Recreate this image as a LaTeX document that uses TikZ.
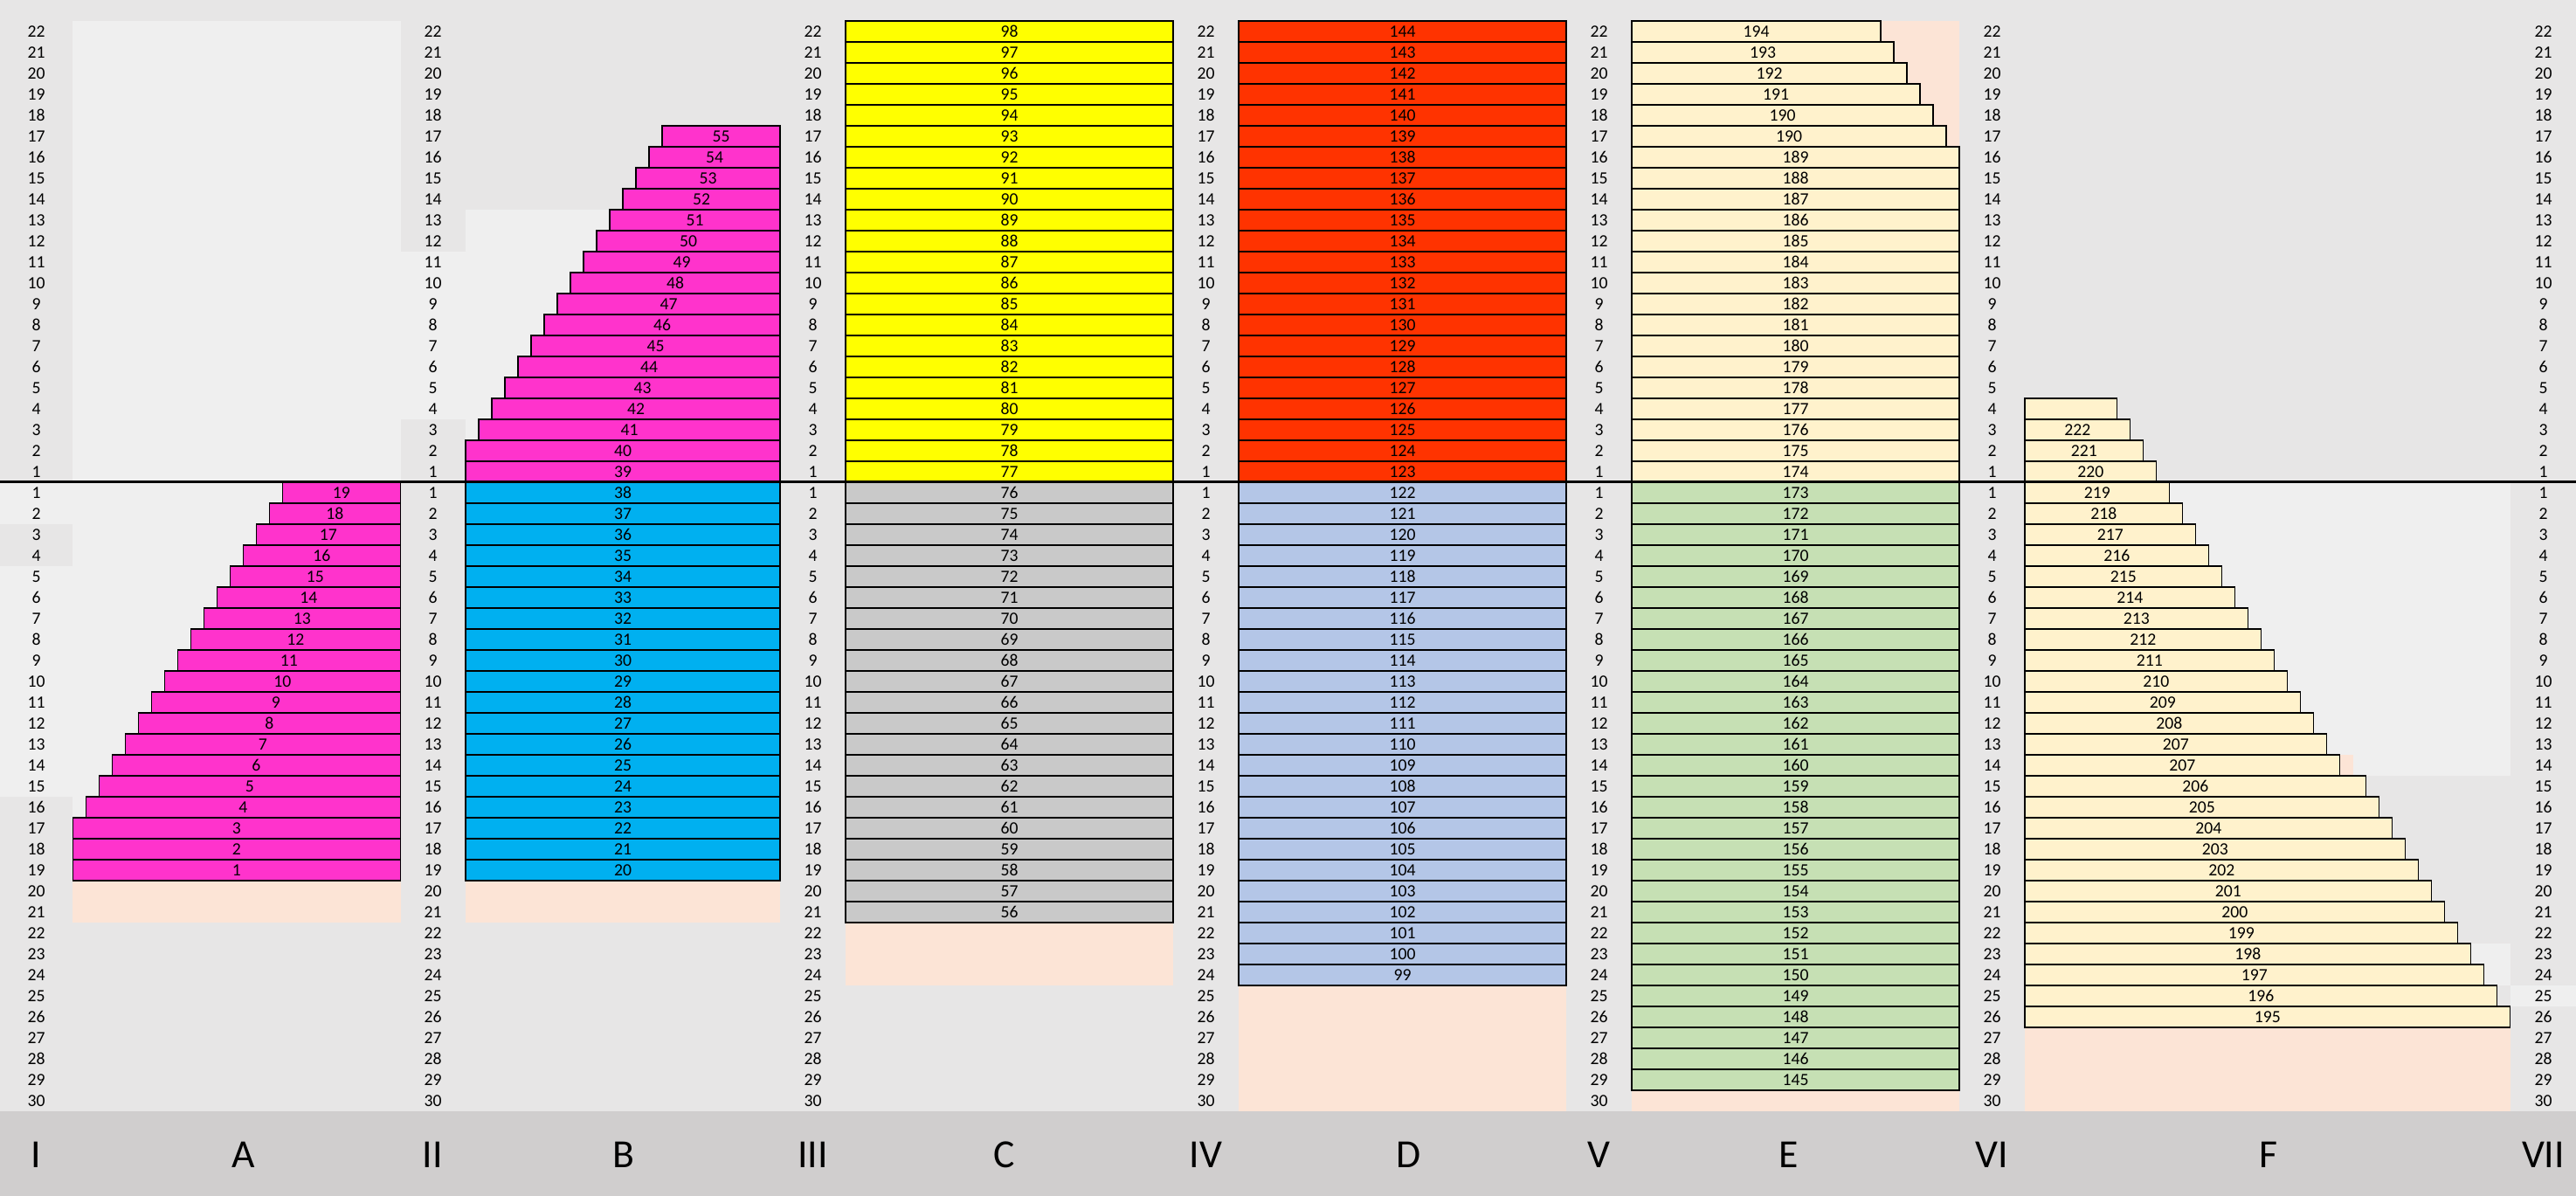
\documentclass[tikz,border=0pt]{standalone}
\usepackage{fontspec}
\setmainfont{Carlito}
\usepackage{xcolor}
\usetikzlibrary{positioning}

\definecolor{sheet}{HTML}{E7E6E6}
\definecolor{sheetlight}{HTML}{EFEFEF}
\definecolor{footbar}{HTML}{D0CECE}
\definecolor{peach}{HTML}{FCE4D6}
\definecolor{pinkbar}{HTML}{FF33CC}
\definecolor{skybar}{HTML}{00B0F0}
\definecolor{yellowbar}{HTML}{FFFF00}
\definecolor{greybar}{HTML}{C9C9C9}
\definecolor{redbar}{HTML}{FF3300}
\definecolor{bluebar}{HTML}{B4C6E7}
\definecolor{creambar}{HTML}{FFF2CC}
\definecolor{greenbar}{HTML}{C6E0B4}

\newcommand{\cellfont}{\fontsize{5.6}{6.5}\selectfont}
\newcommand{\colfont}{\fontsize{13}{15}\selectfont}

\begin{document}
\begin{tikzpicture}[
    cell/.style={rectangle, draw=black, line width=0.45pt, minimum height=0.24cm, inner sep=0pt, outer sep=0pt, anchor=south west, font=\cellfont},
    rowlab/.style={inner sep=0pt, font=\cellfont},
    colname/.style={inner sep=0pt, font=\colfont},
    divider/.style={draw=black, line width=0.85pt},
]

\useasboundingbox (0,-8.17) rectangle (29.49,5.52);

% === SHEET BACKGROUND ===
\fill[sheet] (0,-8.17) rectangle (29.49,5.52);
\fill[footbar] (0,-8.17) rectangle (29.49,-7.20);

% === LIGHT CELLS ===
\fill[sheetlight] (0.83,0) rectangle (4.585,5.28);
\fill[sheetlight] (0.83,-3.84) rectangle (4.585,0);
\fill[sheetlight] (0,-0.48) rectangle (0.83,0);
\fill[sheetlight] (0,-3.60) rectangle (0.83,-0.96);
\fill[sheetlight] (4.585,0.72) rectangle (5.33,2.64);
\fill[sheetlight] (5.33,0) rectangle (8.93,3.12);
\fill[sheetlight] (23.18,-3.36) rectangle (28.74,0);
\fill[sheetlight] (23.18,-5.76) rectangle (28.74,-5.28);
\fill[sheetlight] (28.74,-6.00) rectangle (29.49,-5.76);

% === PEACH CELLS ===
\fill[peach] (0.83,-5.04) rectangle (4.585,-4.56);
\fill[peach] (5.33,-5.04) rectangle (8.93,-4.56);
\fill[peach] (9.68,-5.76) rectangle (13.43,-5.04);
\fill[peach] (14.18,-7.20) rectangle (17.93,-5.76);
\fill[peach] (18.68,3.84) rectangle (22.43,5.28);
\fill[peach] (18.68,-7.20) rectangle (22.43,-6.96);
\fill[peach] (26.785,-3.36) rectangle (26.935,-3.12);
\fill[peach] (23.18,-7.20) rectangle (28.74,-6.24);

% === A ===
\foreach \k in {1,...,19}{
  \pgfmathsetmacro{\xl}{max(0.834,3.234-0.15*(\k-1))}
  \pgfmathsetmacro{\w}{4.585-\xl}
  \pgfmathtruncatemacro{\lab}{20-\k}
  \node[cell, fill=pinkbar, minimum width=\w cm] (A-l\k) at (\xl,-0.24*\k) {\lab};
}

% === B ===
\foreach \r in {1,...,17}{
  \pgfmathsetmacro{\xl}{5.33+0.15*max(0,\r-2)}
  \pgfmathsetmacro{\w}{8.93-\xl}
  \pgfmathtruncatemacro{\lab}{38+\r}
  \node[cell, fill=pinkbar, minimum width=\w cm] (B-u\r) at (\xl,0.24*\r-0.24) {\lab};
}
\foreach \k in {1,...,19}{
  \pgfmathtruncatemacro{\lab}{39-\k}
  \node[cell, fill=skybar, minimum width=3.6cm] (B-l\k) at (5.33,-0.24*\k) {\lab};
}

% === C ===
\foreach \r in {1,...,22}{
  \pgfmathtruncatemacro{\lab}{76+\r}
  \node[cell, fill=yellowbar, minimum width=3.75cm] (C-u\r) at (9.68,0.24*\r-0.24) {\lab};
}
\foreach \k in {1,...,21}{
  \pgfmathtruncatemacro{\lab}{77-\k}
  \node[cell, fill=greybar, minimum width=3.75cm] (C-l\k) at (9.68,-0.24*\k) {\lab};
}

% === D ===
\foreach \r in {1,...,22}{
  \pgfmathtruncatemacro{\lab}{122+\r}
  \node[cell, fill=redbar, minimum width=3.75cm] (D-u\r) at (14.18,0.24*\r-0.24) {\lab};
}
\foreach \k in {1,...,24}{
  \pgfmathtruncatemacro{\lab}{123-\k}
  \node[cell, fill=bluebar, minimum width=3.75cm] (D-l\k) at (14.18,-0.24*\k) {\lab};
}

% === E ===
\foreach \r in {1,...,22}{
  \pgfmathsetmacro{\w}{3.75-0.15*max(0,\r-16)}
  \pgfmathtruncatemacro{\lab}{ifthenelse(\r<18,173+\r,172+\r)}
  \node[cell, fill=creambar, minimum width=\w cm] (E-u\r) at (18.68,0.24*\r-0.24) {\lab};
}
\foreach \k in {1,...,29}{
  \pgfmathtruncatemacro{\lab}{174-\k}
  \node[cell, fill=greenbar, minimum width=3.75cm] (E-l\k) at (18.68,-0.24*\k) {\lab};
}

% === F ===
\foreach \r in {1,...,3}{
  \pgfmathsetmacro{\w}{1.505-0.15*(\r-1)}
  \pgfmathtruncatemacro{\lab}{219+\r}
  \node[cell, fill=creambar, minimum width=\w cm] (F-u\r) at (23.18,0.24*\r-0.24) {\lab};
}
\node[cell, fill=creambar, minimum width=1.055cm] (F-u4) at (23.18,0.72) {};
\foreach \k in {1,...,26}{
  \pgfmathsetmacro{\w}{1.655+0.15*(\k-1)+ifthenelse(\k>14,0.15,0)}
  \pgfmathtruncatemacro{\lab}{ifthenelse(\k<14,220-\k,221-\k)}
  \node[cell, fill=creambar, minimum width=\w cm] (F-l\k) at (23.18,-0.24*\k) {\lab};
}

% === ROW NUMBERS ===
\foreach \c/\xc in {I/0.415,II/4.955,III/9.305,IV/13.805,V/18.305,VI/22.805,VII/29.115}{
  \foreach \r in {1,...,22}
    \node[rowlab] (\c-u\r) at (\xc,0.24*\r-0.12) {\r};
  \foreach \k in {1,...,30}
    \node[rowlab] (\c-l\k) at (\xc,0.12-0.24*\k) {\k};
}

% === DIVIDER ===
\coordinate (divL) at (0,0);
\coordinate (divR) at (29.49,0);
\draw[divider] (divL) -- (divR);

% === FOOTER ===
\node[colname] (foot-I) at (0.415,-7.70) {I};
\node[colname] (foot-A) at (2.79,-7.70) {A};
\node[colname] (foot-II) at (4.955,-7.70) {II};
\node[colname] (foot-B) at (7.14,-7.70) {B};
\node[colname] (foot-III) at (9.305,-7.70) {III};
\node[colname] (foot-C) at (11.50,-7.70) {C};
\node[colname] (foot-IV) at (13.805,-7.70) {IV};
\node[colname] (foot-D) at (16.13,-7.70) {D};
\node[colname] (foot-V) at (18.305,-7.70) {V};
\node[colname] (foot-E) at (20.48,-7.70) {E};
\node[colname] (foot-VI) at (22.805,-7.70) {VI};
\node[colname] (foot-F) at (25.97,-7.70) {F};
\node[colname] (foot-VII) at (29.115,-7.70) {VII};

\end{tikzpicture}
\end{document}
